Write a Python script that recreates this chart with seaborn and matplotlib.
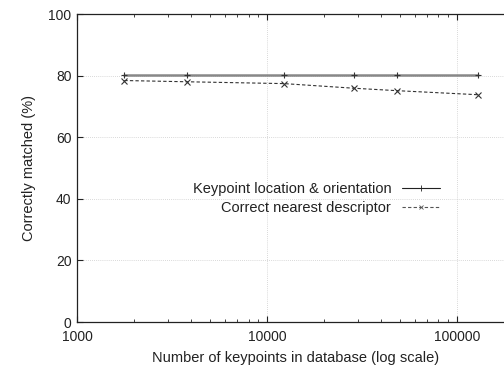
import matplotlib
matplotlib.use("Agg")
import matplotlib.pyplot as plt
import seaborn as sns
import pandas as pd
import numpy as np
from matplotlib.ticker import LogLocator, FixedLocator, NullFormatter
from matplotlib.lines import Line2D

sns.set_theme(style="white")
plt.rcParams['font.family'] = ['Liberation Sans', 'DejaVu Sans']

keypoints = [1775, 3780, 12300, 28700, 48700, 128500]
loc_orient = [80.3, 80.3, 80.3, 80.3, 80.3, 80.3]
nearest_desc = [78.4, 78.0, 77.4, 75.9, 75.1, 73.8]
labels = ["Keypoint location & orientation", "Correct nearest descriptor"]

df = pd.DataFrame({
    "x": keypoints * 2,
    "y": loc_orient + nearest_desc,
    "series": [labels[0]] * len(keypoints) + [labels[1]] * len(keypoints),
})

fig = plt.figure(figsize=(5.04, 3.68), dpi=100)
ax = fig.add_axes([77/504, (368-322)/368, 437/504, 308/368])

sns.lineplot(data=df, x="x", y="y", hue="series", style="series",
             palette={labels[0]: "#888888", labels[1]: "#333333"},
             dashes={labels[0]: "", labels[1]: (3, 2)},
             markers={labels[0]: "+", labels[1]: "x"},
             linewidth=0.8, markersize=5, markeredgewidth=0.8,
             ax=ax, legend=False)
l1, l2 = ax.lines[0], ax.lines[1]
l1.set_linewidth(1.8)
l1.set_markeredgecolor("#333333")
l1.set_markersize(5)
l2.set_markeredgecolor("#333333")
l2.set_markerfacecolor("none")
l2.set_markersize(4.5)

ax.set_xscale("log")
ax.set_xlim(1000, 200000)
ax.set_ylim(0, 100)
ax.xaxis.set_major_locator(FixedLocator([1000, 10000, 100000]))
ax.set_xticklabels(["1000", "10000", "100000"])
ax.xaxis.set_minor_locator(LogLocator(base=10, subs=np.arange(2, 10)))
ax.xaxis.set_minor_formatter(NullFormatter())
ax.set_yticks([0, 20, 40, 60, 80, 100])
ax.grid(True, which="major", color="#cccccc", linestyle=(0, (1, 1.5)), linewidth=0.6)
for s in ax.spines.values():
    s.set_color("#222222")
    s.set_linewidth(0.9)
ax.tick_params(which="both", direction="in", top=True, right=True, left=True, bottom=True,
               colors="#222222", labelsize=10)
ax.tick_params(which="major", length=4, width=0.8, pad=4)
ax.tick_params(which="minor", length=2.5, width=0.6)
ax.tick_params(axis="x", pad=6)

ax.set_xlabel("Number of keypoints in database (log scale)", fontsize=10.5, color="#222222", labelpad=5)
ax.set_ylabel("Correctly matched (%)", fontsize=10.5, color="#222222", labelpad=9)

h1 = Line2D([], [], color="#222222", lw=0.8, marker="+", markersize=4, markeredgewidth=0.6)
h2 = Line2D([], [], color="#555555", lw=0.8, ls=(0, (3, 2)), marker="x", markersize=3.5,
            markeredgewidth=0.6, markeredgecolor="#555555")
ax.legend([h1, h2], labels, loc="center right", bbox_to_anchor=((440-77)/437, (322-198.5)/308),
          frameon=False, markerfirst=False, fontsize=10.5, handlelength=2.6,
          handletextpad=0.75, labelspacing=0.3, alignment="right", borderpad=0, borderaxespad=0)
leg = ax.get_legend()
for t in leg.get_texts():
    t.set_ha("right")
    t.set_color("#222222")

fig.savefig("out.png", dpi=100)
